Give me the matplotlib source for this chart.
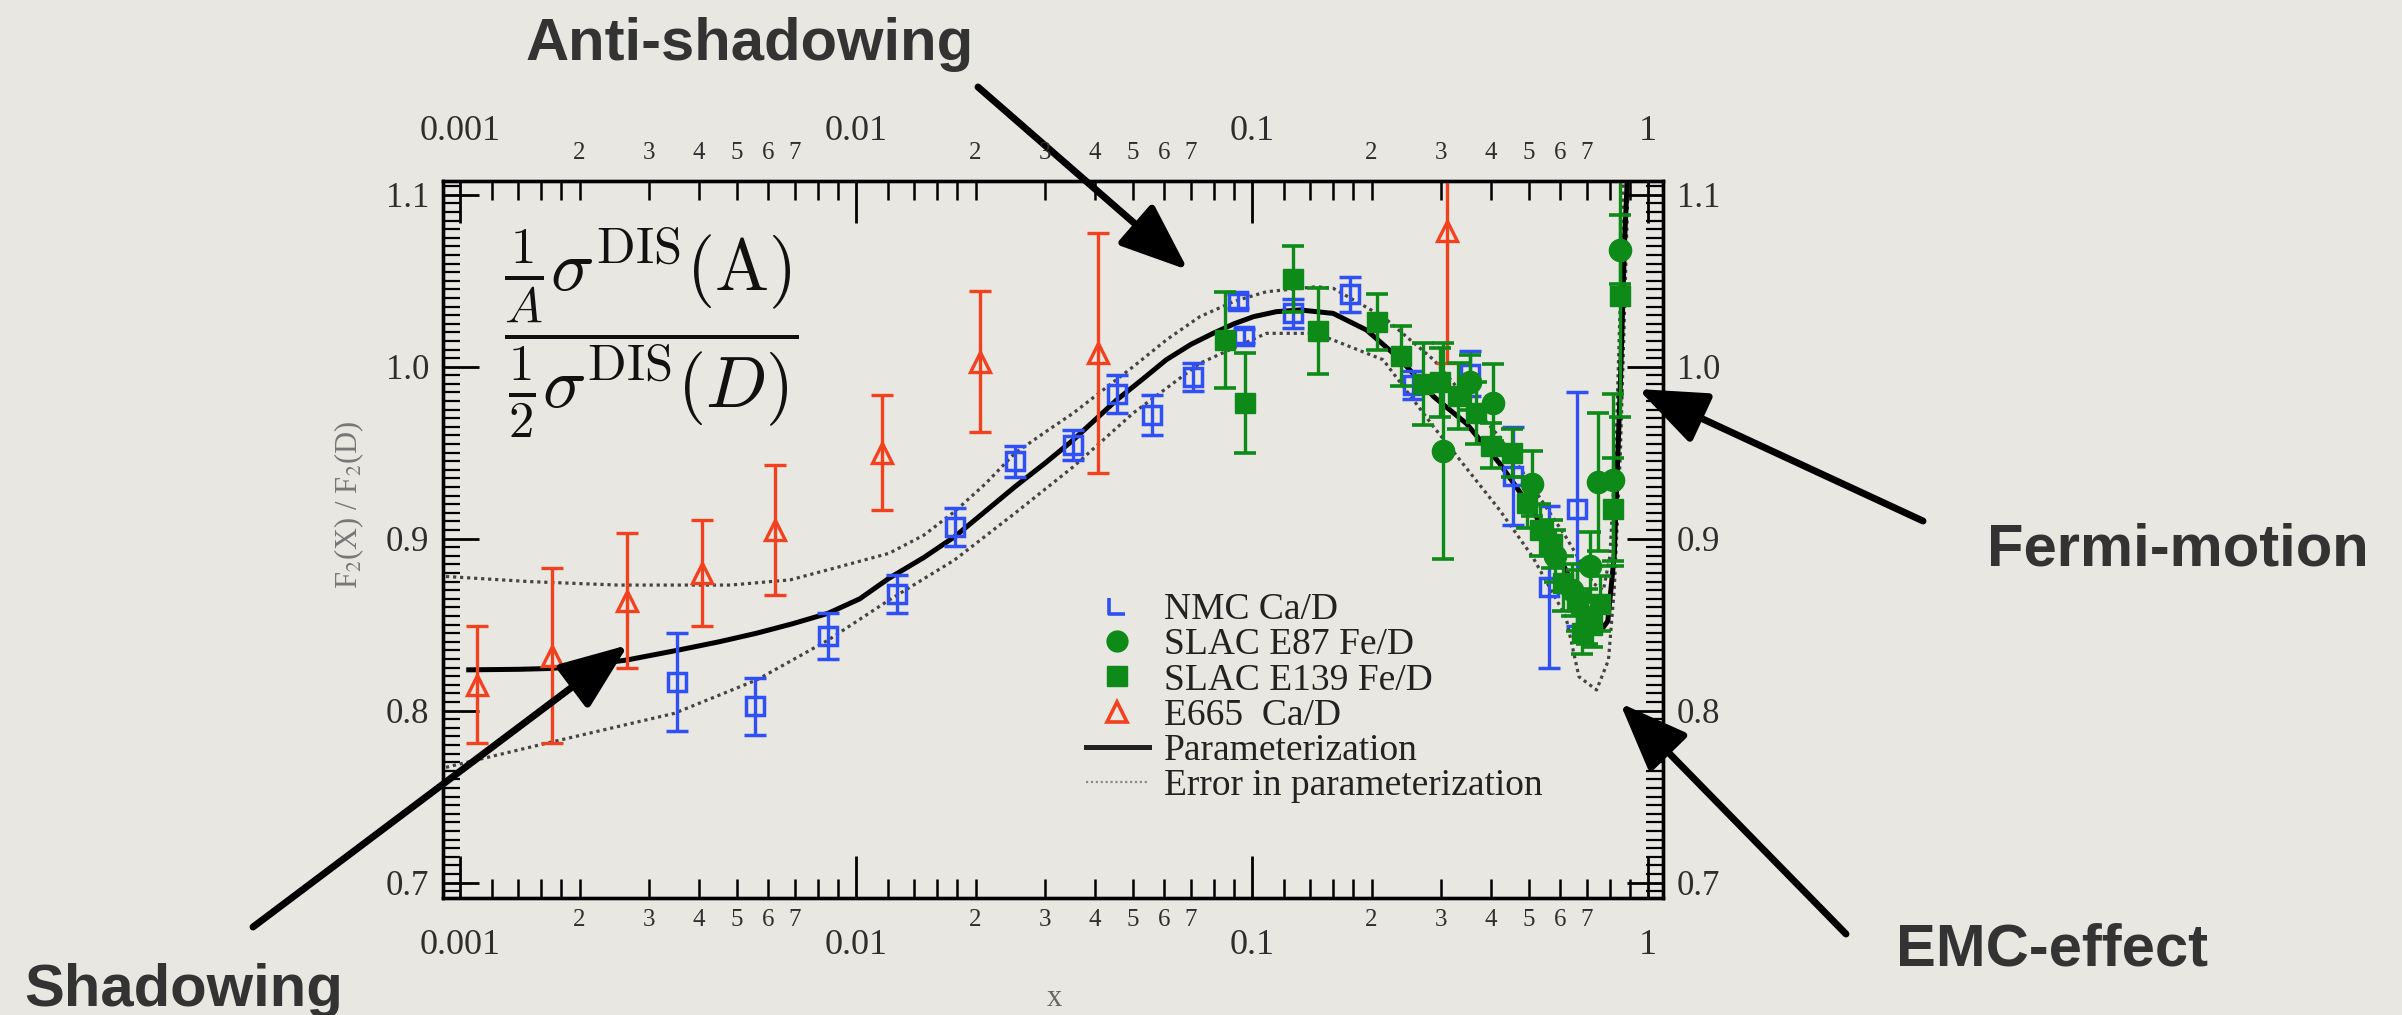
import numpy as np
import matplotlib
matplotlib.use('Agg')
import matplotlib.pyplot as plt
from matplotlib.ticker import LogLocator, FuncFormatter, MultipleLocator
from matplotlib.lines import Line2D
from matplotlib.path import Path

# ---- data ----
# NMC Ca/D (open blue squares)
nmc_x = [0.00352, 0.00555, 0.00849, 0.01265, 0.0177, 0.02515, 0.0353, 0.0454, 0.0557, 0.0710,
         0.092, 0.095, 0.1268, 0.1764, 0.2548, 0.3543, 0.456, 0.56, 0.659]
nmc_y = [0.8165, 0.8025, 0.8435, 0.868, 0.907, 0.945, 0.9544, 0.984, 0.972, 0.994,
         1.038, 1.018, 1.031, 1.042, 0.9894, 0.996, 0.9365, 0.872, 0.917]
nmc_err = [0.0285, 0.0165, 0.0135, 0.011, 0.011, 0.009, 0.0086, 0.011, 0.0117, 0.008,
           0.004, 0.004, 0.0086, 0.010, 0.008, 0.013, 0.0285, 0.047, 0.068]

# SLAC E87 Fe/D (filled green circles)
e87_x = [0.3036, 0.354, 0.4055, 0.507, 0.58, 0.64, 0.713, 0.748, 0.815, 0.85]
e87_y = [0.951, 0.991, 0.979, 0.932, 0.890, 0.870, 0.884, 0.933, 0.934, 1.068]
e87_err = [0.063, 0.016, 0.0225, 0.019, 0.015, 0.015, 0.020, 0.040, 0.050, 0.020]

# SLAC E139 Fe/D (filled green squares)
e139_x = [0.0853, 0.0958, 0.1268, 0.1466, 0.206, 0.238, 0.270, 0.298, 0.331, 0.368, 0.400, 0.452,
          0.494, 0.532, 0.570, 0.610, 0.660, 0.680, 0.700, 0.720, 0.756, 0.815, 0.848]
e139_y = [1.0155, 0.979, 1.051, 1.021, 1.026, 1.006, 0.990, 0.991, 0.983, 0.973, 0.954, 0.950,
          0.921, 0.905, 0.897, 0.874, 0.864, 0.845, 0.855, 0.850, 0.862, 0.917, 1.041]
e139_err = [0.028, 0.029, 0.019, 0.025, 0.016, 0.0175, 0.024, 0.020, 0.019, 0.018, 0.013, 0.014,
            0.015, 0.015, 0.014, 0.016, 0.018, 0.012, 0.016, 0.013, 0.016, 0.030, 0.070]

# E665 Ca/D (open red triangles)
e665_x = [0.00110, 0.00170, 0.00263, 0.00407, 0.00623, 0.0116, 0.0205, 0.0408, 0.311]
e665_y = [0.815, 0.832, 0.864, 0.880, 0.905, 0.950, 1.003, 1.008, 1.079]
e665_err = [0.034, 0.051, 0.039, 0.031, 0.038, 0.0335, 0.041, 0.070, 0.077]

# parameterization and its error band
param_x = [0.00105, 0.0014, 0.0017, 0.0021, 0.00263, 0.00352, 0.0045, 0.0056, 0.0069, 0.00849,
           0.0102, 0.0121, 0.0148, 0.0177, 0.0212, 0.02515, 0.0300, 0.0353, 0.0454, 0.0530,
           0.0606, 0.0700, 0.0796, 0.0900, 0.1007, 0.1150, 0.1318, 0.160, 0.1943, 0.237, 0.287,
           0.347, 0.421, 0.510, 0.619, 0.66, 0.70, 0.75, 0.79, 0.82, 0.85, 0.87, 0.885]
param_y = [0.8237, 0.8240, 0.8245, 0.8265, 0.8294, 0.835, 0.8400, 0.845, 0.8505, 0.8566,
           0.8650, 0.8770, 0.8890, 0.9011, 0.9160, 0.9302, 0.9440, 0.9574, 0.9806, 0.9930,
           1.0040, 1.0130, 1.0194, 1.0250, 1.0291, 1.0320, 1.0330, 1.031, 1.0213, 1.004, 0.9826,
           0.967, 0.9438, 0.9167, 0.8818, 0.868, 0.857, 0.845, 0.852, 0.89, 0.99, 1.07, 1.11]
upper_x = [0.00092, 0.0015, 0.0025, 0.0048, 0.0068, 0.00908, 0.0121, 0.0148, 0.0177, 0.0212,
           0.02515, 0.0300, 0.0353, 0.050, 0.0610, 0.0737, 0.090, 0.1085, 0.145, 0.160, 0.214,
           0.287, 0.421, 0.619, 0.726, 0.77, 0.80, 0.83, 0.85, 0.865]
upper_y = [0.878, 0.875, 0.873, 0.873, 0.876, 0.8837, 0.8915, 0.9020, 0.9157, 0.9320,
           0.9497, 0.9620, 0.973, 1.000, 1.0160, 1.0291, 1.0380, 1.0436, 1.0465, 1.0456, 1.029,
           1.004, 0.959, 0.901, 0.874, 0.870, 0.89, 0.96, 1.04, 1.11]
lower_x = [0.00092, 0.00165, 0.00347, 0.0056, 0.00849, 0.0121, 0.0177, 0.02515, 0.0353, 0.050,
           0.0737, 0.1085, 0.145, 0.214, 0.287, 0.421, 0.510, 0.619, 0.668, 0.74, 0.793, 0.82,
           0.85, 0.87, 0.89]
lower_y = [0.767, 0.781, 0.7984, 0.8178, 0.841, 0.8643, 0.8876, 0.9148, 0.9418, 0.973,
           1.002, 1.0194, 1.0194, 1.004, 0.965, 0.9167, 0.8895, 0.8546, 0.8197, 0.812, 0.8294,
           0.87, 0.95, 1.03, 1.11]

legend_labels = ['NMC Ca/D', 'SLAC E87 Fe/D', 'SLAC E139 Fe/D', 'E665  Ca/D',
                 'Parameterization', 'Error in parameterization']

BG = '#e8e7e1'
BLUE = '#2f50f4'
GREEN = '#0d8a18'
RED = '#f2411f'
TXT = '#2e2e2e'

plt.rcParams['font.family'] = ['Liberation Serif', 'DejaVu Serif']
plt.rcParams['mathtext.fontset'] = 'cm'

fig = plt.figure(figsize=(24.02, 10.15), dpi=100)
fig.patch.set_facecolor(BG)
ax = fig.add_axes([443 / 2402, (1015 - 898) / 1015, 1220 / 2402, 717 / 1015])
ax.set_facecolor(BG)
ax.set_xscale('log')
ax.set_xlim(0.000904, 1.089)
ax.set_ylim(0.691, 1.108)

ax2 = ax.twiny()
ax2.set_xscale('log')
ax2.set_xlim(ax.get_xlim())


def minor_fmt(v, pos):
    m = round(v / 10 ** np.floor(np.log10(v) + 1e-9), 1)
    return str(int(m)) if m in (2, 3, 4, 5, 6, 7) else ''


for a in (ax, ax2):
    a.xaxis.set_major_locator(LogLocator(base=10, numticks=10))
    a.xaxis.set_minor_locator(LogLocator(base=10, subs=[1.2, 1.4, 1.6, 1.8, 2, 3, 4, 5, 6, 7, 8, 9],
                                         numticks=60))
    a.xaxis.set_major_formatter(FuncFormatter(lambda v, p: f'{v:g}'))
    a.xaxis.set_minor_formatter(FuncFormatter(minor_fmt))
    for s in a.spines.values():
        s.set_linewidth(2.4)

ax.yaxis.set_major_locator(MultipleLocator(0.1))
ax.yaxis.set_minor_locator(MultipleLocator(0.005))
ax.yaxis.set_major_formatter(FuncFormatter(lambda v, p: f'{v:.1f}'))

ax.tick_params(axis='x', which='major', direction='in', length=30, width=2, pad=22,
               labelsize=26, bottom=True, top=False, labelcolor=TXT)
ax.tick_params(axis='x', which='minor', direction='in', length=14, width=1.8, pad=8,
               labelsize=18, bottom=True, top=False, labelcolor=TXT)
ax2.tick_params(axis='x', which='major', direction='in', length=30, width=2, pad=24,
                labelsize=26, top=True, bottom=False, labeltop=True, labelbottom=False,
                labelcolor=TXT)
ax2.tick_params(axis='x', which='minor', direction='in', length=14, width=1.8, pad=12,
                labelsize=18, top=True, bottom=False, labeltop=True, labelbottom=False,
                labelcolor=TXT)
ax.tick_params(axis='y', which='major', direction='in', length=26, width=2, pad=10,
               labelsize=25, left=True, right=True, labelleft=True, labelright=True,
               labelcolor=TXT)
ax.tick_params(axis='y', which='minor', direction='in', length=12, width=1.6,
               left=True, right=True)

# curves
ax.plot(upper_x, upper_y, color='#444444', lw=2.3, ls=(0, (1, 1.2)), zorder=2)
ax.plot(lower_x, lower_y, color='#444444', lw=2.3, ls=(0, (1, 1.2)), zorder=2)
ax.plot(param_x, param_y, color='black', lw=3.6, zorder=3)

# data points
ax.errorbar(nmc_x, nmc_y, yerr=nmc_err, fmt='s', ms=13, mfc='none', mec=BLUE, mew=2.5,
            ecolor=BLUE, elinewidth=2.4, capsize=8, capthick=2.6, zorder=4)
ax.errorbar(e665_x, e665_y, yerr=e665_err, fmt='^', ms=14, mfc='none', mec=RED, mew=2.4,
            ecolor=RED, elinewidth=2.4, capsize=8, capthick=2.6, zorder=4)
ax.errorbar(e139_x, e139_y, yerr=e139_err, fmt='s', ms=15, color=GREEN, mec=GREEN,
            ecolor=GREEN, elinewidth=2.4, capsize=8, capthick=2.6, zorder=5)
ax.errorbar(e87_x, e87_y, yerr=e87_err, fmt='o', ms=16, color=GREEN, mec=GREEN,
            ecolor=GREEN, elinewidth=2.4, capsize=8, capthick=2.6, zorder=5)

# legend
ell = Path([(-1, 1), (-1, -1), (1, -1)], [Path.MOVETO, Path.LINETO, Path.LINETO])
handles = [
    Line2D([], [], ls='none', marker=ell, ms=11, mfc='none', mec=BLUE, mew=2.6),
    Line2D([], [], ls='none', marker='o', ms=15, color=GREEN),
    Line2D([], [], ls='none', marker='s', ms=15, color=GREEN),
    Line2D([], [], ls='none', marker='^', ms=14, mfc='none', mec=RED, mew=2.6),
    Line2D([], [], color='#222222', lw=3.6),
    Line2D([], [], color='#8a8a8a', lw=1.6, ls=(0, (1, 1.2))),
]
leg = ax.legend(handles, legend_labels, loc='upper left', bbox_to_anchor=(0.5267, 0.426),
                frameon=False, fontsize=27, handlelength=1.7, handletextpad=0.4,
                labelspacing=0.02, borderpad=0, borderaxespad=0)
for t in leg.get_texts():
    t.set_color('#222222')

# formula
fig.text(651 / 2402, 1 - 333 / 1015,
         r'$\dfrac{\frac{1}{A}\sigma^{\rm DIS}(\mathrm{A})}{\frac{1}{2}\sigma^{\rm DIS}(D)}$',
         fontsize=52, ha='center', va='center', color='#111111')

# axis labels
ax.set_ylabel(r'F$_2$(X) / F$_2$(D)', fontsize=22, color='#777777', math_fontfamily='stix')
ax.yaxis.set_label_coords(-0.063, 0.548)
ax.set_xlabel('')
fig.text(1054 / 2402, 1 - 999 / 1015, 'x', ha='center', va='center', fontsize=22,
         color='#666666')

# annotations
notes = [
    ('Anti-shadowing', (750, 44), (978, 87), (1188, 270)),
    ('Fermi-motion', (2178, 550), (1923, 521), (1638, 389)),
    ('EMC-effect', (2052, 950), (1846, 934), (1620, 703)),
    ('Shadowing', (184, 990), (253, 927), (628, 645)),
]
for label, pos, tail, tip in notes:
    fig.text(pos[0] / 2402, 1 - pos[1] / 1015, label, ha='center', va='center',
             fontsize=43, fontweight='bold', color='#333333',
             family=['Liberation Sans', 'DejaVu Sans'])
    ax.annotate('', xy=(tip[0], 1015 - tip[1]), xycoords='figure pixels',
                xytext=(tail[0], 1015 - tail[1]), textcoords='figure pixels',
                arrowprops=dict(arrowstyle='-|>,head_length=1.4,head_width=0.55', lw=5,
                                color='black', mutation_scale=30, shrinkA=0, shrinkB=0),
                annotation_clip=False, zorder=10)

fig.savefig('out.png', dpi=100, facecolor=BG)
